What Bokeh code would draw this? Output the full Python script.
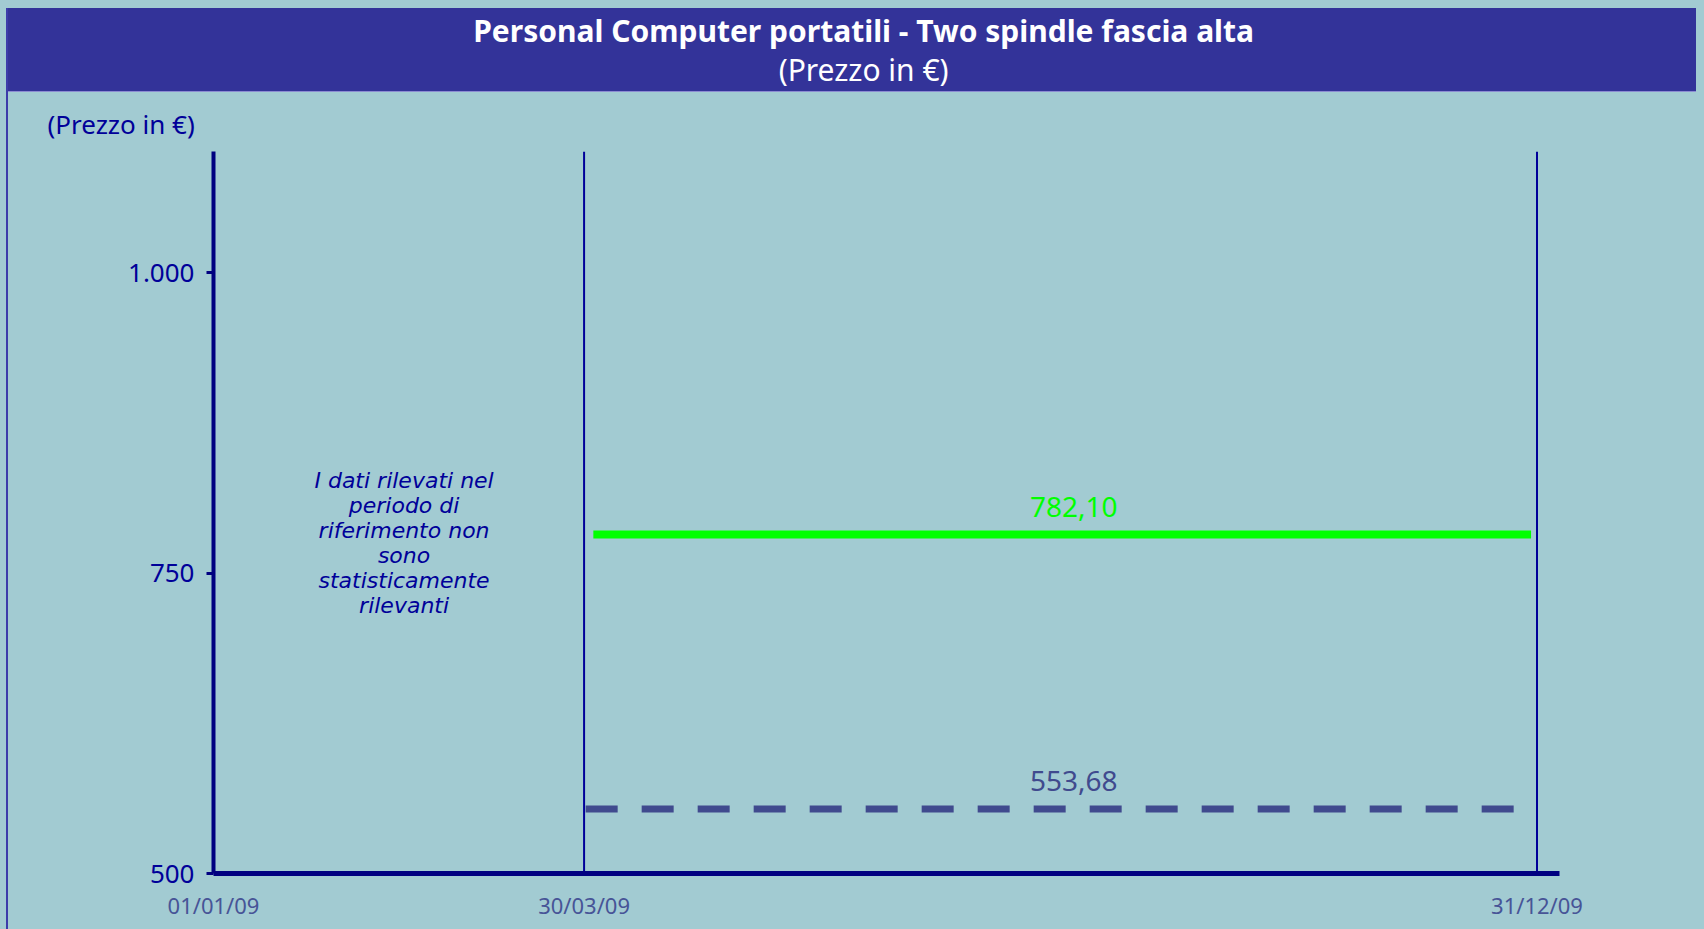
from bokeh.plotting import figure
from bokeh.models import Range1d, FixedTicker
from bokeh.layouts import column
from bokeh.embed import file_html
from bokeh.resources import INLINE
from bokeh.core.properties import value

# ---------------- data ----------------
title_text = "Personal Computer portatili - Two spindle fascia alta"
subtitle_text = "(Prezzo in €)"
y_axis_title = "(Prezzo in €)"
date_labels = ["01/01/09", "30/03/09", "31/12/09"]
y_ticks = [500, 750, 1000]
y_tick_labels = ["500", "750", "1.000"]
series_values = [782.10, 553.68]          # green (solid), blue (dashed)
series_value_labels = ["782,10", "553,68"]
note_text = "I dati rilevati nel\nperiodo di\nriferimento non\nsono\nstatisticamente\nrilevanti"

# ---------------- layout constants ----------------
# the time axis of the original is not to scale: positions of the date marks
date_x = [0, 28, 100]
X_END = 101.7
Y_START, Y_END = 500, 1101
BG = "#A2CBD2"
BAND = "#333399"
NAVY = "#000080"
DARKBLUE = "#000099"
GREEN = "#00FF00"
DASHBLUE = "#404A8E"
FONT = "Noto Sans"
W = 1688

# ---------------- title band ----------------
band = figure(width=W, height=83, x_range=Range1d(0, 1), y_range=Range1d(0, 1),
              x_axis_type=None, y_axis_type=None, toolbar_location=None,
              output_backend="svg", min_border=0,
              background_fill_color=None, border_fill_color=None, outline_line_color=None,
              styles={"background-color": BAND})
band.text(x=[0.483], y=[0.73], text=[title_text], text_color="white",
          text_font=value(FONT), text_font_size="30px", text_font_style="bold",
          text_align="center", text_baseline="middle")
band.text(x=[0.483], y=[0.26], text=[subtitle_text], text_color="white",
          text_font=value(FONT), text_font_size="30px",
          text_align="center", text_baseline="middle")

# ---------------- main chart ----------------
p = figure(width=W, height=830, x_range=Range1d(0, X_END), y_range=Range1d(Y_START, Y_END),
           toolbar_location=None, output_backend="svg",
           background_fill_color=BG, border_fill_color=BG, outline_line_color=None,
           min_border_left=205, min_border_right=137, min_border_top=59, min_border_bottom=46,
           styles={"border-top": "1px solid #8C8CD2"})
p.grid.visible = False

# y axis title (top-left, horizontal) -- uses the figure's own title slot
p.title.text = y_axis_title
p.title.align = "left"
p.title.vertical_align = "top"
p.title.offset = -166
p.title.standoff = 15
p.title.text_font = FONT
p.title.text_font_size = "26px"
p.title.text_font_style = "normal"
p.title.text_color = DARKBLUE

# y axis
p.yaxis.ticker = FixedTicker(ticks=y_ticks)
p.yaxis.major_label_overrides = {t: l for t, l in zip(y_ticks, y_tick_labels)}
p.yaxis.axis_line_width = 4
p.yaxis.axis_line_color = NAVY
p.yaxis.major_tick_line_width = 3
p.yaxis.major_tick_line_color = NAVY
p.yaxis.major_tick_out = 7
p.yaxis.major_tick_in = 0
p.yaxis.minor_tick_line_color = None
p.yaxis.major_label_standoff = 12
p.yaxis.major_label_text_font = FONT
p.yaxis.major_label_text_font_size = "26px"
p.yaxis.major_label_text_color = DARKBLUE

# x axis
p.xaxis.ticker = FixedTicker(ticks=date_x)
p.xaxis.major_label_overrides = {t: l for t, l in zip(date_x, date_labels)}
p.xaxis.axis_line_width = 5
p.xaxis.axis_line_color = NAVY
p.xaxis.major_tick_line_color = None
p.xaxis.minor_tick_line_color = None
p.xaxis.major_tick_out = 0
p.xaxis.major_tick_in = 0
p.xaxis.major_label_standoff = 16
p.xaxis.major_label_text_font = FONT
p.xaxis.major_label_text_font_size = "22px"
p.xaxis.major_label_text_color = "#475497"

# vertical period lines
p.segment(x0=date_x[1:], y0=[Y_START] * 2, x1=date_x[1:], y1=[Y_END] * 2,
          line_color=DARKBLUE, line_width=2)

# price lines
p.segment(x0=[date_x[1] + 0.7], y0=[series_values[0]], x1=[date_x[2] - 0.45], y1=[series_values[0]],
          line_color=GREEN, line_width=8, line_cap="butt")
p.segment(x0=[date_x[1] + 0.12], y0=[series_values[1]], x1=[date_x[2] - 1.74], y1=[series_values[1]],
          line_color=DASHBLUE, line_width=7, line_dash="32 24", line_cap="butt")

# value labels
p.text(x=[65, 65], y=series_values, text=series_value_labels, text_color=[GREEN, DASHBLUE],
       text_font=value(FONT), text_font_size="28px", text_align="center",
       text_baseline="middle", y_offset=-28)

# note in first period
p.text(x=[(date_x[0] + date_x[1]) / 2 + 0.4], y=[775], text=[note_text], text_color=DARKBLUE,
       text_font=value("DejaVu Sans"), text_font_size="22px", text_font_style="italic",
       text_align="center", text_baseline="middle", text_line_height=1.0)

layout = column(band, p)
html = file_html(layout, INLINE, title="Personal Computer portatili")
style = (f'<style>html{{background:{BG};}} body{{background:{BG};margin:8px 8px 8px 6px;'
         f'border-left:2px solid #3C3CAA;min-height:calc(100vh - 16px);}}</style>')
if "</head>" in html:
    html = html.replace("</head>", style + "</head>", 1)
open("out.html", "w").write(html)
